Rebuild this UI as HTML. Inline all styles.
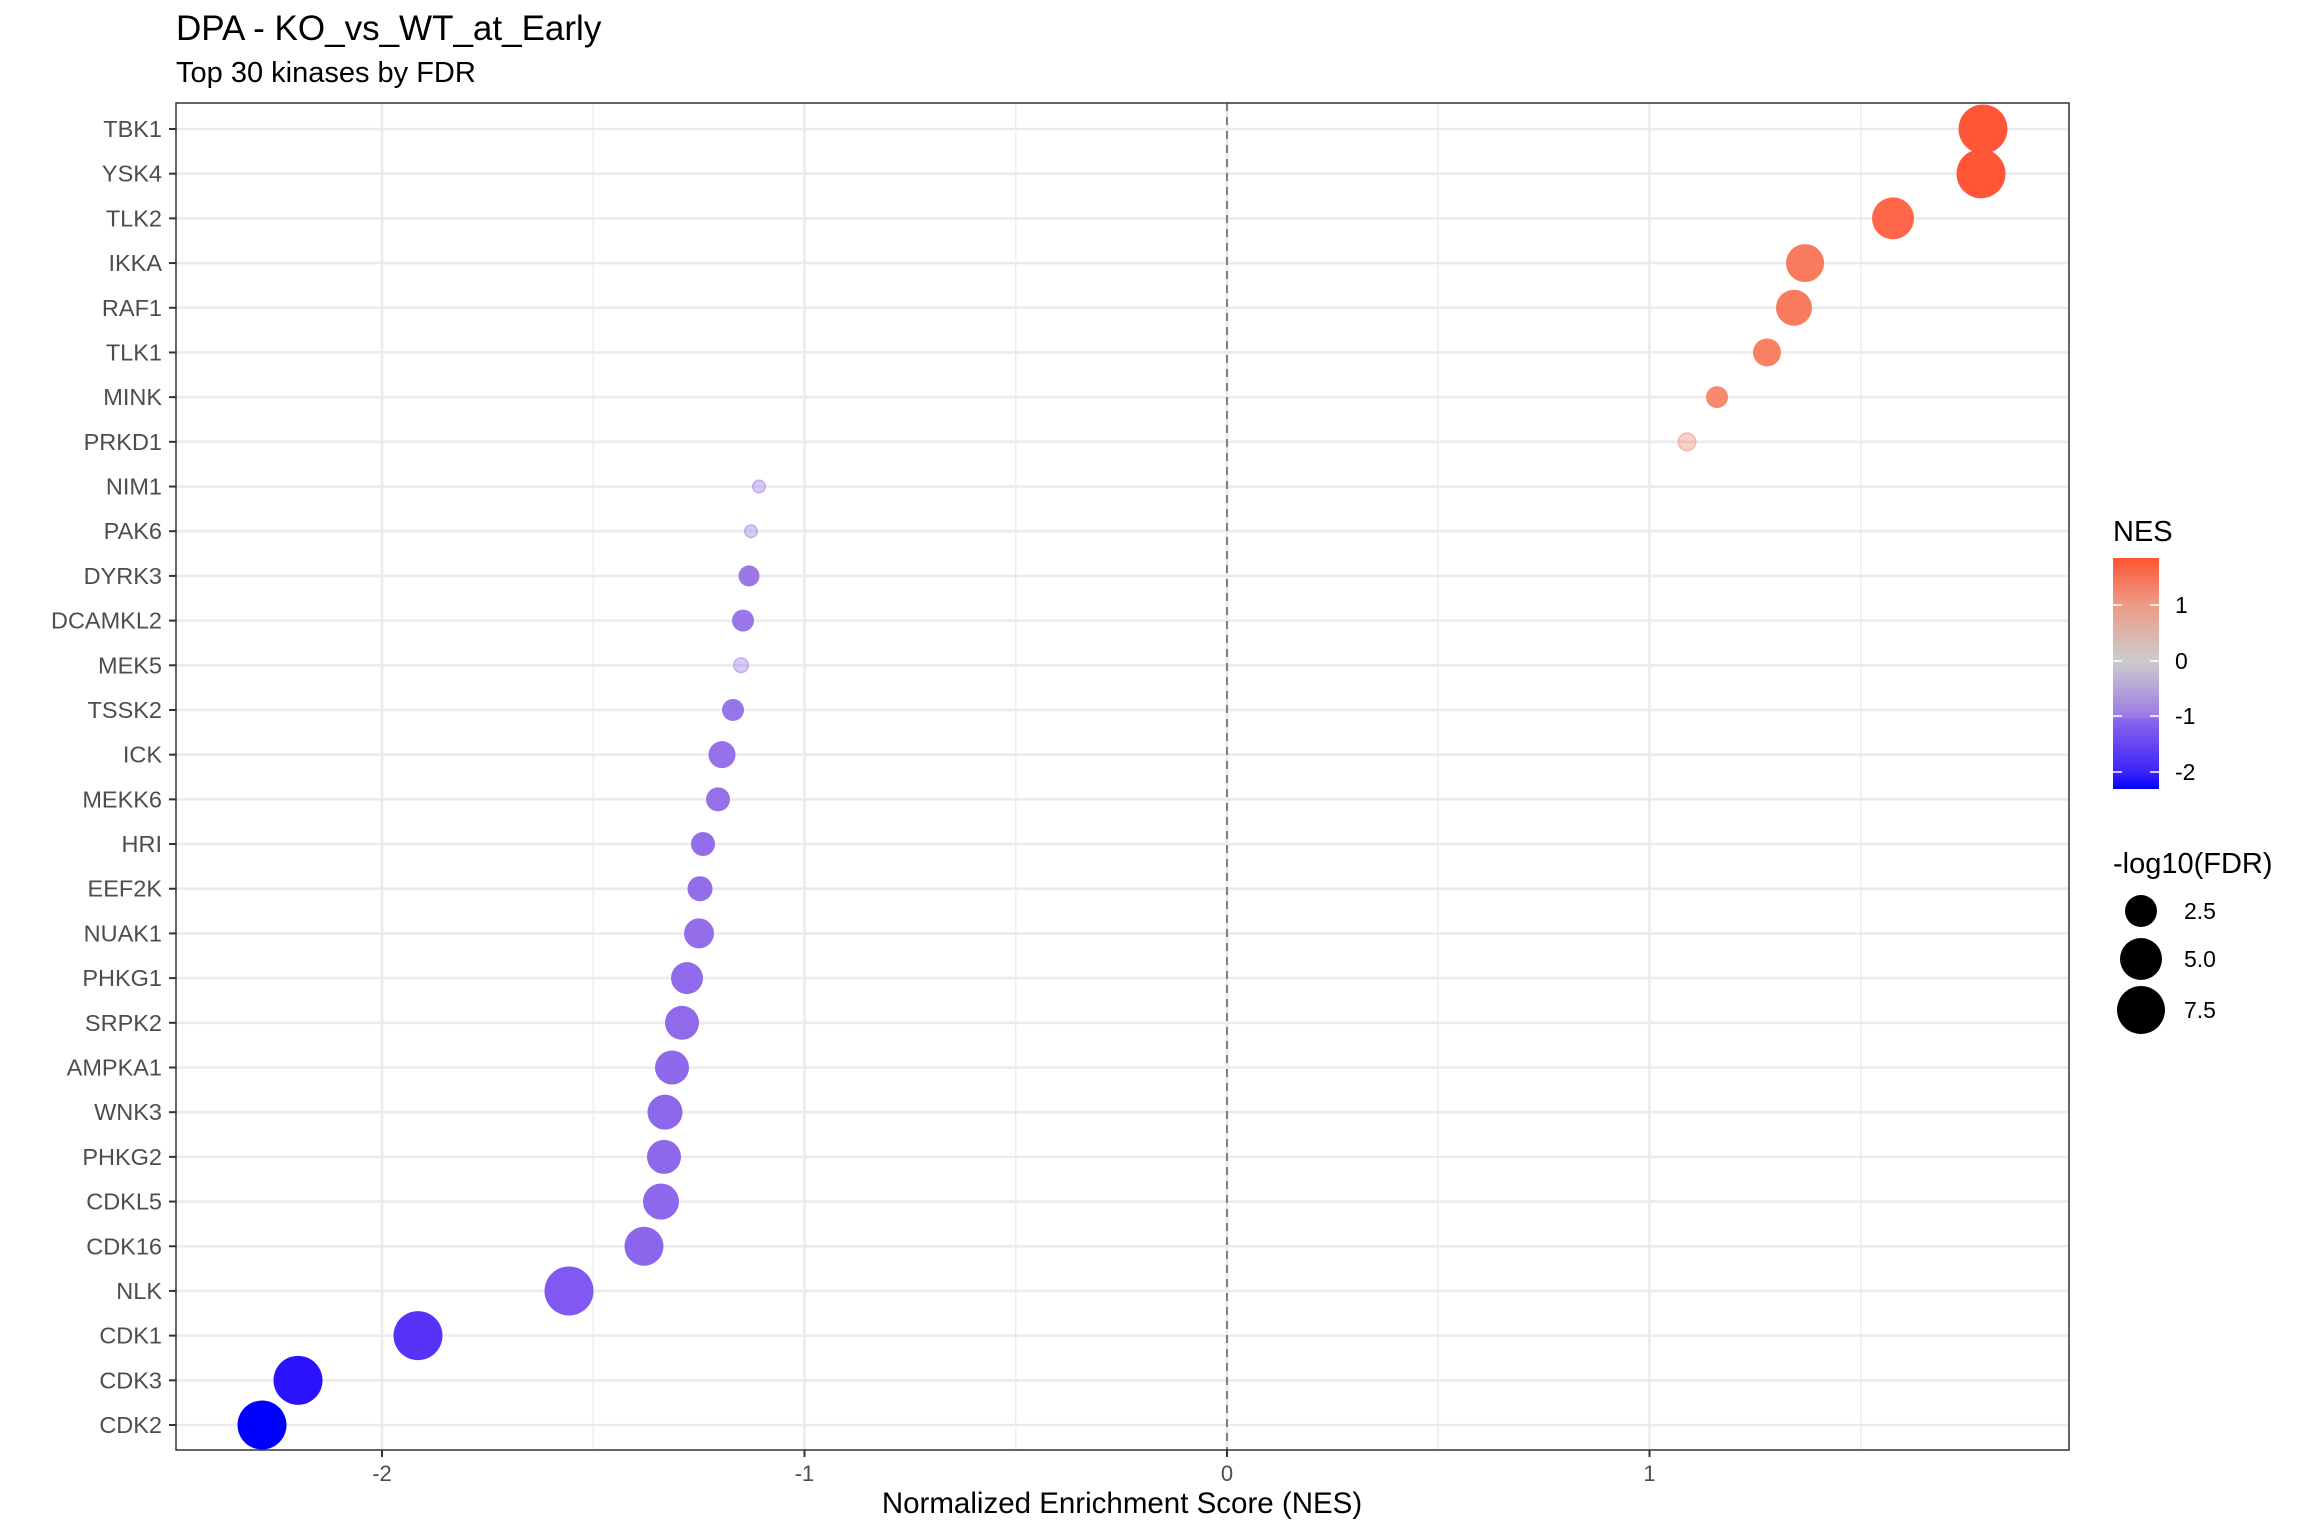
<!DOCTYPE html>
<html><head><meta charset="utf-8"><style>
html,body{margin:0;padding:0;background:#fff;}
svg{display:block;font-family:"Liberation Sans",Arial,sans-serif;}
</style></head><body>
<svg id="s" width="2304" height="1536" viewBox="0 0 2304 1536" xmlns="http://www.w3.org/2000/svg">
<defs>
<linearGradient id="cb" x1="0" y1="1" x2="0" y2="0">
<stop offset="0" stop-color="#0000FF"/>
<stop offset="0.07" stop-color="#3A22FA"/>
<stop offset="0.30" stop-color="#8A66EC"/>
<stop offset="0.31" stop-color="#9B7AE6"/>
<stop offset="0.555" stop-color="#CCCCCC"/>
<stop offset="0.80" stop-color="#EC9A86"/>
<stop offset="1" stop-color="#FF5533"/>
</linearGradient>
</defs>
<rect width="2304" height="1536" fill="#fff"/>
<text x="176" y="40" font-size="35" fill="#000">DPA - KO_vs_WT_at_Early</text>
<text x="176" y="82" font-size="29" fill="#000">Top 30 kinases by FDR</text>
<g id="grid"></g>
<g id="pts"></g>
<rect x="176" y="103" width="1893" height="1347" fill="none" stroke="#333" stroke-width="1.5"/>
<g id="axes"></g>
<text x="1122" y="1513" font-size="29.5" text-anchor="middle" fill="#000">Normalized Enrichment Score (NES)</text>
<!-- legend -->
<text x="2113" y="541" font-size="29" fill="#000">NES</text>
<rect x="2113" y="558" width="46" height="231" fill="url(#cb)"/>
<g stroke="#fff" stroke-width="1.5">
<line x1="2113" y1="605" x2="2122" y2="605"/><line x1="2150" y1="605" x2="2159" y2="605"/>
<line x1="2113" y1="661" x2="2122" y2="661"/><line x1="2150" y1="661" x2="2159" y2="661"/>
<line x1="2113" y1="716" x2="2122" y2="716"/><line x1="2150" y1="716" x2="2159" y2="716"/>
<line x1="2113" y1="772" x2="2122" y2="772"/><line x1="2150" y1="772" x2="2159" y2="772"/>
</g>
<g font-size="23" fill="#000">
<text x="2175" y="613">1</text>
<text x="2175" y="669">0</text>
<text x="2175" y="724">-1</text>
<text x="2175" y="780">-2</text>
</g>
<text x="2113" y="873" font-size="29" fill="#000">-log10(FDR)</text>
<circle cx="2141" cy="911" r="16" fill="#000"/>
<circle cx="2141" cy="959" r="21" fill="#000"/>
<circle cx="2141" cy="1010" r="24" fill="#000"/>
<g font-size="23" fill="#000">
<text x="2184" y="919">2.5</text>
<text x="2184" y="967">5.0</text>
<text x="2184" y="1018">7.5</text>
</g>
</svg>
<script>
var NS="http://www.w3.org/2000/svg";
function el(p,t,a,txt){var e=document.createElementNS(NS,t);for(var k in a)e.setAttribute(k,a[k]);if(txt!==undefined)e.textContent=txt;p.appendChild(e);return e;}
var x0=1227,u=422.5,L=176,R=2069,T=103,B=1450;
function X(v){return x0+v*u;}
var data=[
["TBK1",1983,24.5,"#FF5637",1],
["YSK4",1981,24.5,"#FF5637",1],
["TLK2",1893,21,"#FE6749",1],
["IKKA",1805,19,"#F97A5C",1],
["RAF1",1794,18,"#F97B5E",1],
["TLK1",1767,14,"#F88063",1],
["MINK",1717,11,"#F68A6F",1],
["PRKD1",1687,9.5,"#F08A72",0.4],
["NIM1",759,7,"#9C7CE6",0.4],
["PAK6",751,7,"#9C7CE6",0.4],
["DYRK3",749,10.5,"#9A78E8",1],
["DCAMKL2",743,11,"#9A77E8",1],
["MEK5",741,8,"#9C7CE6",0.4],
["TSSK2",733,11,"#9875E8",1],
["ICK",722,13.5,"#9671E9",1],
["MEKK6",718,12,"#9570E9",1],
["HRI",703,12,"#936EEA",1],
["EEF2K",700,12.5,"#936DEA",1],
["NUAK1",699,15,"#936DEA",1],
["PHKG1",687,16,"#916BEB",1],
["SRPK2",682,17,"#906AEB",1],
["AMPKA1",672,17,"#8F69EB",1],
["WNK3",665,17.5,"#8E68EB",1],
["PHKG2",664,17,"#8E68EB",1],
["CDKL5",661,18,"#8D67EC",1],
["CDK16",644,19.5,"#8B65EC",1],
["NLK",569,24.5,"#8158F2",1],
["CDK1",418,24.5,"#5733F8",1],
["CDK3",298,24.5,"#2A12FC",1],
["CDK2",262,24.5,"#0000FF",1]
];
var g=document.getElementById("grid"),p=document.getElementById("pts"),a=document.getElementById("axes");
[-2.5,-1.5,-0.5,0.5,1.5].forEach(function(v){var x=X(v);if(x>L&&x<R)el(g,"line",{x1:x,x2:x,y1:T,y2:B,stroke:"#EBEBEB","stroke-width":1.3});});
[-2,-1,1].forEach(function(v){el(g,"line",{x1:X(v),x2:X(v),y1:T,y2:B,stroke:"#EBEBEB","stroke-width":2.6});});
el(g,"line",{x1:X(0),x2:X(0),y1:T,y2:B,stroke:"#EBEBEB","stroke-width":2.6});
data.forEach(function(d,i){var y=129+44.69*i;el(g,"line",{x1:L,x2:R,y1:y,y2:y,stroke:"#EBEBEB","stroke-width":2.6});
el(a,"line",{x1:169,x2:176,y1:y,y2:y,stroke:"#333","stroke-width":2});
el(a,"text",{x:162,y:y+8,"font-size":23.5,"text-anchor":"end",fill:"#4D4D4D"},d[0]);});
el(g,"line",{x1:X(0),x2:X(0),y1:T,y2:B,stroke:"#7F7F7F","stroke-width":2,"stroke-dasharray":"8,6"});
data.forEach(function(d,i){var y=129+44.69*i;el(p,"circle",{cx:d[1],cy:y,r:d[2],fill:d[3],"fill-opacity":d[4]});
if(d[4]<1)el(p,"circle",{cx:d[1],cy:y,r:d[2]-0.8,fill:"none",stroke:d[3],"stroke-opacity":0.35,"stroke-width":1.6});});
[-2,-1,0,1].forEach(function(v){el(a,"line",{x1:X(v),x2:X(v),y1:B,y2:B+7,stroke:"#333","stroke-width":2});
el(a,"text",{x:X(v),y:1481,"font-size":22,"text-anchor":"middle",fill:"#4D4D4D"},String(v));});
</script>
</body></html>
